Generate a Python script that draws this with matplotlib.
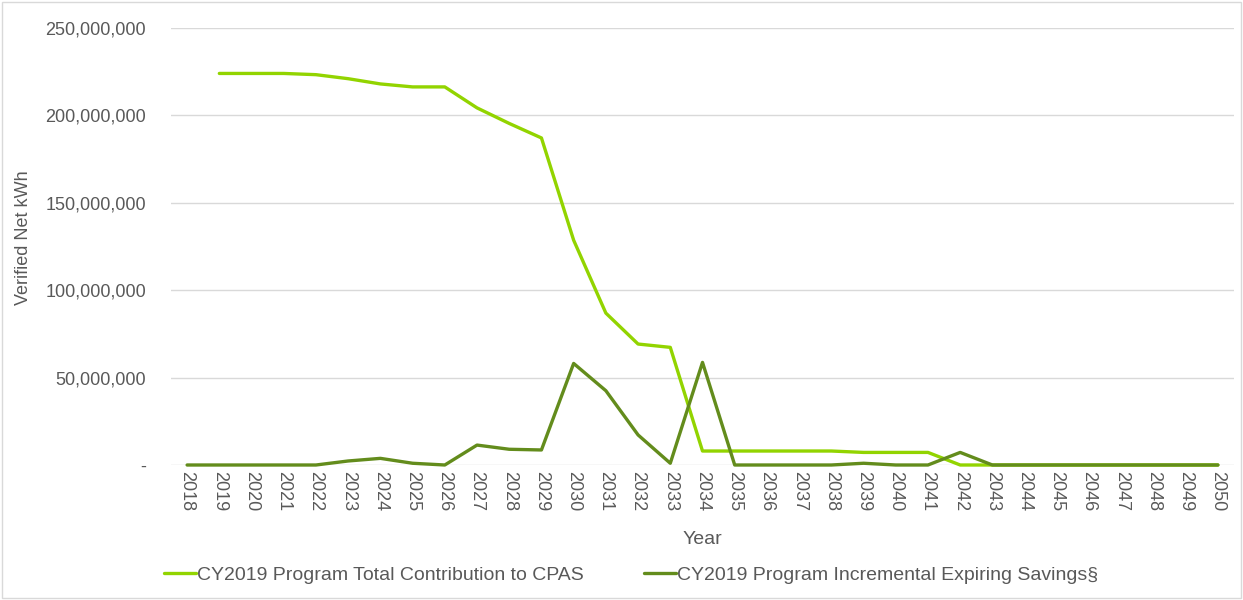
import matplotlib.pyplot as plt
from matplotlib.ticker import FuncFormatter
from matplotlib.patches import Rectangle

# Data
years = list(range(2018, 2051))

total_years = list(range(2019, 2051))
total_contribution = [
    224.0e6, 224.0e6, 224.0e6, 223.3e6, 221.0e6, 218.0e6, 216.3e6, 216.3e6,
    204.3e6, 195.4e6, 187.1e6, 128.6e6, 86.9e6, 69.2e6, 67.3e6, 8.0e6,
    8.0e6, 8.0e6, 8.0e6, 8.0e6, 7.2e6, 7.2e6, 7.2e6, 0.0, 0.0,
    0.0, 0.0, 0.0, 0.0, 0.0, 0.0, 0.0,
]

expiring_savings = [
    0.0, 0.0, 0.0, 0.0, 0.0, 2.3e6, 3.8e6, 1.0e6, 0.0,
    11.4e6, 9.0e6, 8.6e6, 58.1e6, 42.5e6, 17.2e6, 1.0e6, 58.7e6,
    0.0, 0.0, 0.0, 0.0, 1.0e6, 0.0, 0.0, 7.2e6, 0.0,
    0.0, 0.0, 0.0, 0.0, 0.0, 0.0, 0.0,
]

y_ticks = [0, 50e6, 100e6, 150e6, 200e6, 250e6]

light_green = '#92d400'
dark_green = '#638c1c'
text_grey = '#595959'

plt.rcParams['font.family'] = ['Liberation Sans Narrow', 'Liberation Sans', 'DejaVu Sans']

fig = plt.figure(figsize=(12.43, 6), dpi=100)
ax = fig.add_axes([171 / 1243, 1 - 465 / 600, (1234 - 171) / 1243, (465 - 28) / 600])

ax.plot(total_years, total_contribution, color=light_green, lw=2.4, clip_on=False,
        solid_capstyle='round', label='CY2019 Program Total Contribution to CPAS')
ax.plot(years, expiring_savings, color=dark_green, lw=2.4, clip_on=False,
        solid_capstyle='round', label='CY2019 Program Incremental Expiring Savings§')

ax.set_xlim(2017.5, 2050.5)
ax.set_ylim(0, 250e6)
ax.set_yticks(y_ticks)
ax.yaxis.set_major_formatter(FuncFormatter(lambda v, p: '-' if v == 0 else f'{v:,.0f}'))
ax.set_xticks(years)
ax.set_xticklabels([str(y) for y in years], rotation=-90)

ax.grid(axis='y', color='#d9d9d9', lw=1)
ax.set_axisbelow(True)
for s in ax.spines.values():
    s.set_visible(False)
ax.tick_params(length=0, colors=text_grey, labelsize=13)
ax.tick_params(axis='y', pad=18)
ax.tick_params(axis='x', pad=4)

ax.set_ylabel('Verified Net kWh', color=text_grey, fontsize=13, labelpad=4)
ax.yaxis.set_label_coords(-139 / 1063, 0.52)
ax.set_xlabel('Year', color=text_grey, fontsize=14)
ax.xaxis.set_label_coords(0.5, -0.152)

leg = fig.legend(loc='center', bbox_to_anchor=(631 / 1243, 1 - 575 / 600), ncol=2,
                 frameon=False, fontsize=14, handlelength=1.65, handletextpad=0.05,
                 columnspacing=3.1)
for t in leg.get_texts():
    t.set_color(text_grey)

fig.patches.append(Rectangle((2 / 1243, 2 / 600), 1 - 4 / 1243, 1 - 4 / 600,
                             transform=fig.transFigure, fill=False,
                             edgecolor='#d9d9d9', lw=1))

fig.savefig('out.png', dpi=100)
